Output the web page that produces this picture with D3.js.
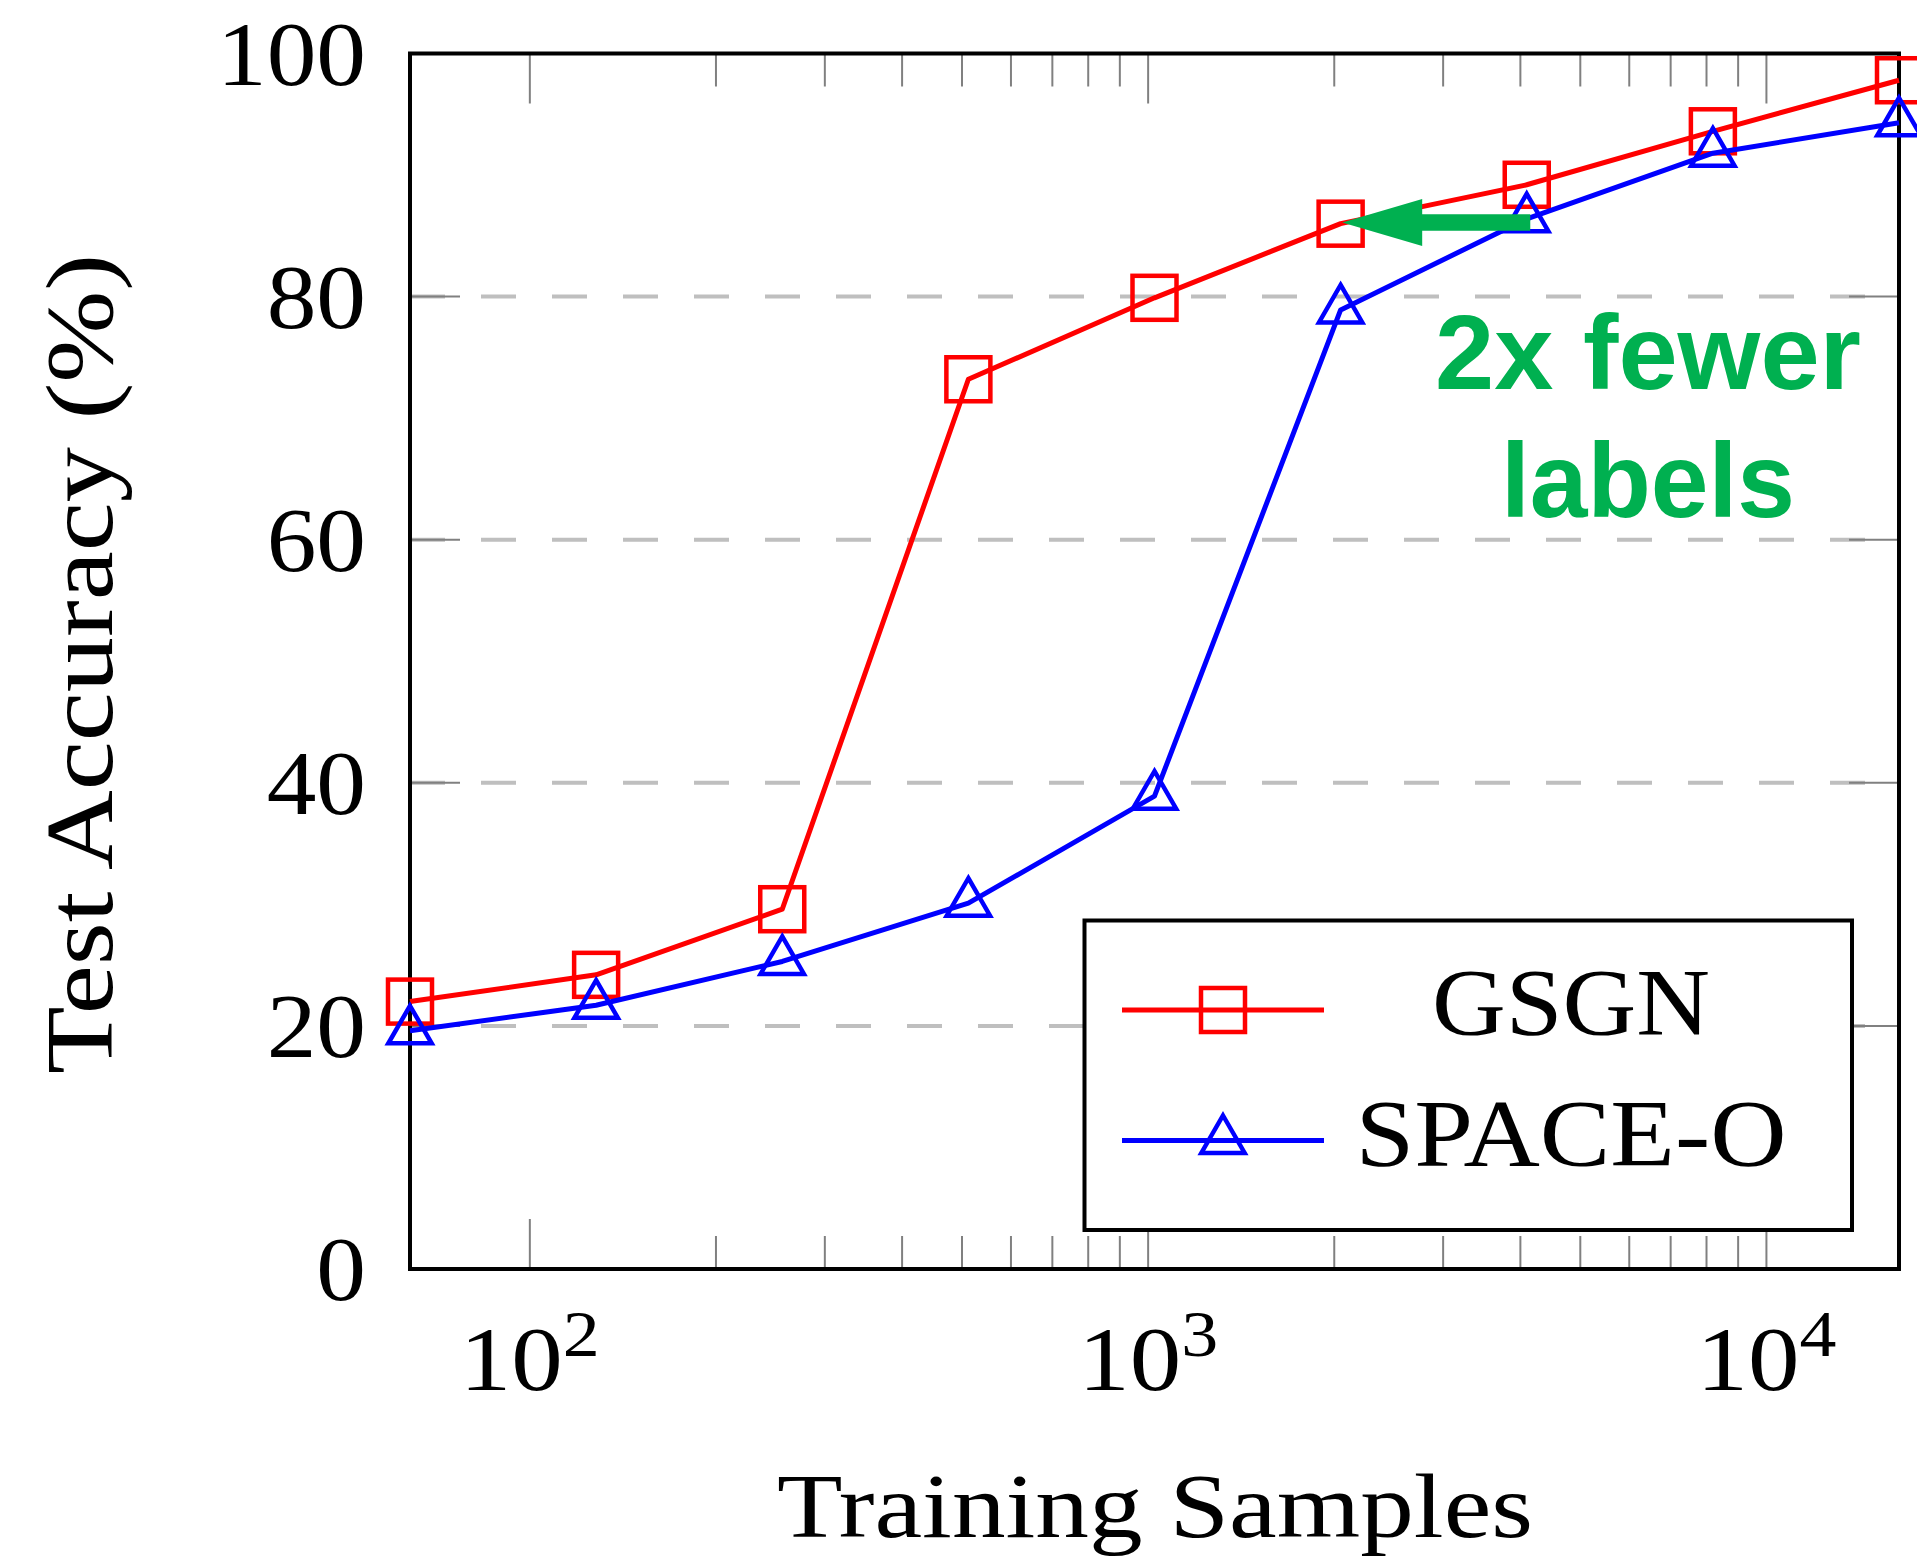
<!DOCTYPE html>
<html>
<head>
<meta charset="utf-8">
<script src="https://cdn.jsdelivr.net/npm/d3@7"></script>
<style>
  body { margin: 0; background: #fff; }
  text { font-family: "Liberation Serif", "Times New Roman", serif; }
</style>
</head>
<body>
<div id="chart"></div>
<script>
// data
const samples = [64, 128, 256, 512, 1024, 2048, 4096, 8192, 16384];
const gsgn = [22.0, 24.2, 29.6, 73.2, 79.9, 86.0, 89.2, 93.6, 97.8];
const spaceO = [19.6, 21.7, 25.3, 30.1, 38.9, 78.9, 86.4, 91.8, 94.3];
const yTicks = [0, 20, 40, 60, 80, 100];
const yGrid = [20, 40, 60, 80];
const xMajor = [100, 1000, 10000];
const xMajorExp = ["2", "3", "4"];
const xMinor = [200, 300, 400, 500, 600, 700, 800, 900,
    2000, 3000, 4000, 5000, 6000, 7000, 8000, 9000];
const arrowFrom = [4150, 86.1];
const arrowTo = [2060, 86.1];

// set the dimensions and margins of the graph
const margin = { top: 53.5, right: 18, bottom: 289, left: 410 },
    width = 1917 - margin.left - margin.right,
    height = 1558 - margin.top - margin.bottom;

const svgRoot = d3.select("#chart")
    .append("svg")
    .attr("width", 1917)
    .attr("height", 1558);

const svg = svgRoot.append("g")
    .attr("transform", `translate(${margin.left},${margin.top})`);

const x = d3.scaleLog().domain([64, 16384]).range([0, width]);
const y = d3.scaleLinear().domain([0, 100]).range([height, 0]);

// dashed grid
svg.append("g")
    .selectAll("line")
    .data(yGrid)
    .join("line")
    .attr("x1", 0).attr("x2", width)
    .attr("y1", d => y(d)).attr("y2", d => y(d))
    .attr("stroke", "#bfbfbf")
    .attr("stroke-width", 4)
    .attr("stroke-dasharray", "35,36");

// ticks (inside, top + bottom, left + right)
const tickG = svg.append("g").attr("stroke", "#808080").attr("stroke-width", 2);
function xTicks(vals, len) {
    vals.forEach(v => {
        tickG.append("line").attr("x1", x(v)).attr("x2", x(v))
            .attr("y1", height).attr("y2", height - len);
        tickG.append("line").attr("x1", x(v)).attr("x2", x(v))
            .attr("y1", 0).attr("y2", len);
    });
}
xTicks(xMajor, 50);
xTicks(xMinor, 33);
yTicks.forEach(v => {
    tickG.append("line").attr("x1", 0).attr("x2", 50)
        .attr("y1", y(v)).attr("y2", y(v));
    tickG.append("line").attr("x1", width - 50).attr("x2", width)
        .attr("y1", y(v)).attr("y2", y(v));
});

// frame
svg.append("rect")
    .attr("width", width).attr("height", height)
    .attr("fill", "none").attr("stroke", "#000").attr("stroke-width", 4);

// tick labels
svg.append("g")
    .selectAll("text")
    .data(yTicks)
    .join("text")
    .attr("transform", d => `translate(-44,${y(d) + 31}) scale(1.08,1)`)
    .attr("text-anchor", "end")
    .attr("font-size", 92)
    .text(d => d);

const xl = svg.append("g")
    .selectAll("text")
    .data(xMajor)
    .join("text")
    .attr("transform", d => `translate(${x(d)},${height + 121}) scale(1.12,1)`)
    .attr("text-anchor", "middle")
    .attr("font-size", 92);
xl.append("tspan").text("10");
xl.append("tspan").attr("font-size", 66).attr("dy", -34).text((d, i) => xMajorExp[i]);

// axis titles
svgRoot.append("text")
    .attr("transform", "translate(112,664) rotate(-90)")
    .attr("text-anchor", "middle")
    .attr("font-size", 96)
    .attr("textLength", 820)
    .attr("lengthAdjust", "spacingAndGlyphs")
    .text("Test Accuracy (%)");

svgRoot.append("text")
    .attr("x", 1155).attr("y", 1537)
    .attr("text-anchor", "middle")
    .attr("font-size", 92)
    .attr("textLength", 756)
    .attr("lengthAdjust", "spacingAndGlyphs")
    .text("Training Samples");

// series
const series = [
    { name: "GSGN", values: gsgn, color: "#ff0000", mark: "square" },
    { name: "SPACE-O", values: spaceO, color: "#0000ff", mark: "triangle" }
];

const line = d3.line()
    .x(d => x(d[0]))
    .y(d => y(d[1]));

const r = 25;
const triPath = `M0,${-r}L${0.866 * r},${0.5 * r}L${-0.866 * r},${0.5 * r}Z`;
function drawMark(g, mark, color) {
    if (mark === "square") {
        g.append("rect").attr("x", -22).attr("y", -22)
            .attr("width", 44).attr("height", 44)
            .attr("fill", "none").attr("stroke", color).attr("stroke-width", 4.5);
    } else {
        g.append("path").attr("d", triPath)
            .attr("fill", "none").attr("stroke", color).attr("stroke-width", 4.5);
    }
}

series.forEach(s => {
    const pts = samples.map((d, i) => [d, s.values[i]]);
    svg.append("path")
        .datum(pts)
        .attr("fill", "none")
        .attr("stroke", s.color)
        .attr("stroke-width", 5)
        .attr("stroke-linejoin", "round")
        .attr("d", line);
    svg.append("g")
        .selectAll("g")
        .data(pts)
        .join("g")
        .attr("transform", d => `translate(${x(d[0])},${y(d[1])})`)
        .each(function () { drawMark(d3.select(this), s.mark, s.color); });
});

// legend
const lgW = 767.5, lgH = 309.5;
const legend = svg.append("g")
    .attr("transform", `translate(${width - 47 - lgW},${height - 39 - lgH})`);
legend.append("rect")
    .attr("width", lgW).attr("height", lgH)
    .attr("fill", "#fff").attr("stroke", "#000").attr("stroke-width", 4);
series.forEach((s, i) => {
    const row = legend.append("g").attr("transform", `translate(0,${89.5 + i * 130.5})`);
    row.append("line").attr("x1", 37.5).attr("x2", 239.5)
        .attr("stroke", s.color).attr("stroke-width", 5);
    drawMark(row.append("g").attr("transform", "translate(138.5,0)"), s.mark, s.color);
    row.append("text")
        .attr("x", 486.5).attr("y", 25)
        .attr("text-anchor", "middle")
        .attr("font-size", 96)
        .attr("textLength", i === 0 ? 278 : 431)
        .attr("lengthAdjust", "spacingAndGlyphs")
        .text(s.name);
});

// annotation arrow
const green = "#00b050";
const ax0 = x(arrowFrom[0]), ax1 = x(arrowTo[0]), ay = y(arrowTo[1]);
const headLen = 80, headHalf = 23.5, shaftHalf = 8.3;
svg.append("path")
    .attr("d", `M${ax1},${ay}L${ax1 + headLen},${ay - headHalf}L${ax1 + headLen},${ay - shaftHalf}` +
        `L${ax0},${ay - shaftHalf}L${ax0},${ay + shaftHalf}L${ax1 + headLen},${ay + shaftHalf}` +
        `L${ax1 + headLen},${ay + headHalf}Z`)
    .attr("fill", green);

const note = svgRoot.append("g")
    .attr("fill", green)
    .attr("font-weight", "bold")
    .attr("text-anchor", "middle");
note.append("text")
    .attr("x", 1648).attr("y", 389)
    .attr("font-size", 106)
    .attr("textLength", 426)
    .attr("lengthAdjust", "spacingAndGlyphs")
    .style("font-family", "'Liberation Sans', Arial, sans-serif")
    .text("2x fewer");
note.append("text")
    .attr("x", 1648).attr("y", 517)
    .attr("font-size", 106)
    .attr("textLength", 294)
    .attr("lengthAdjust", "spacingAndGlyphs")
    .style("font-family", "'Liberation Sans', Arial, sans-serif")
    .text("labels");
</script>
</body>
</html>
